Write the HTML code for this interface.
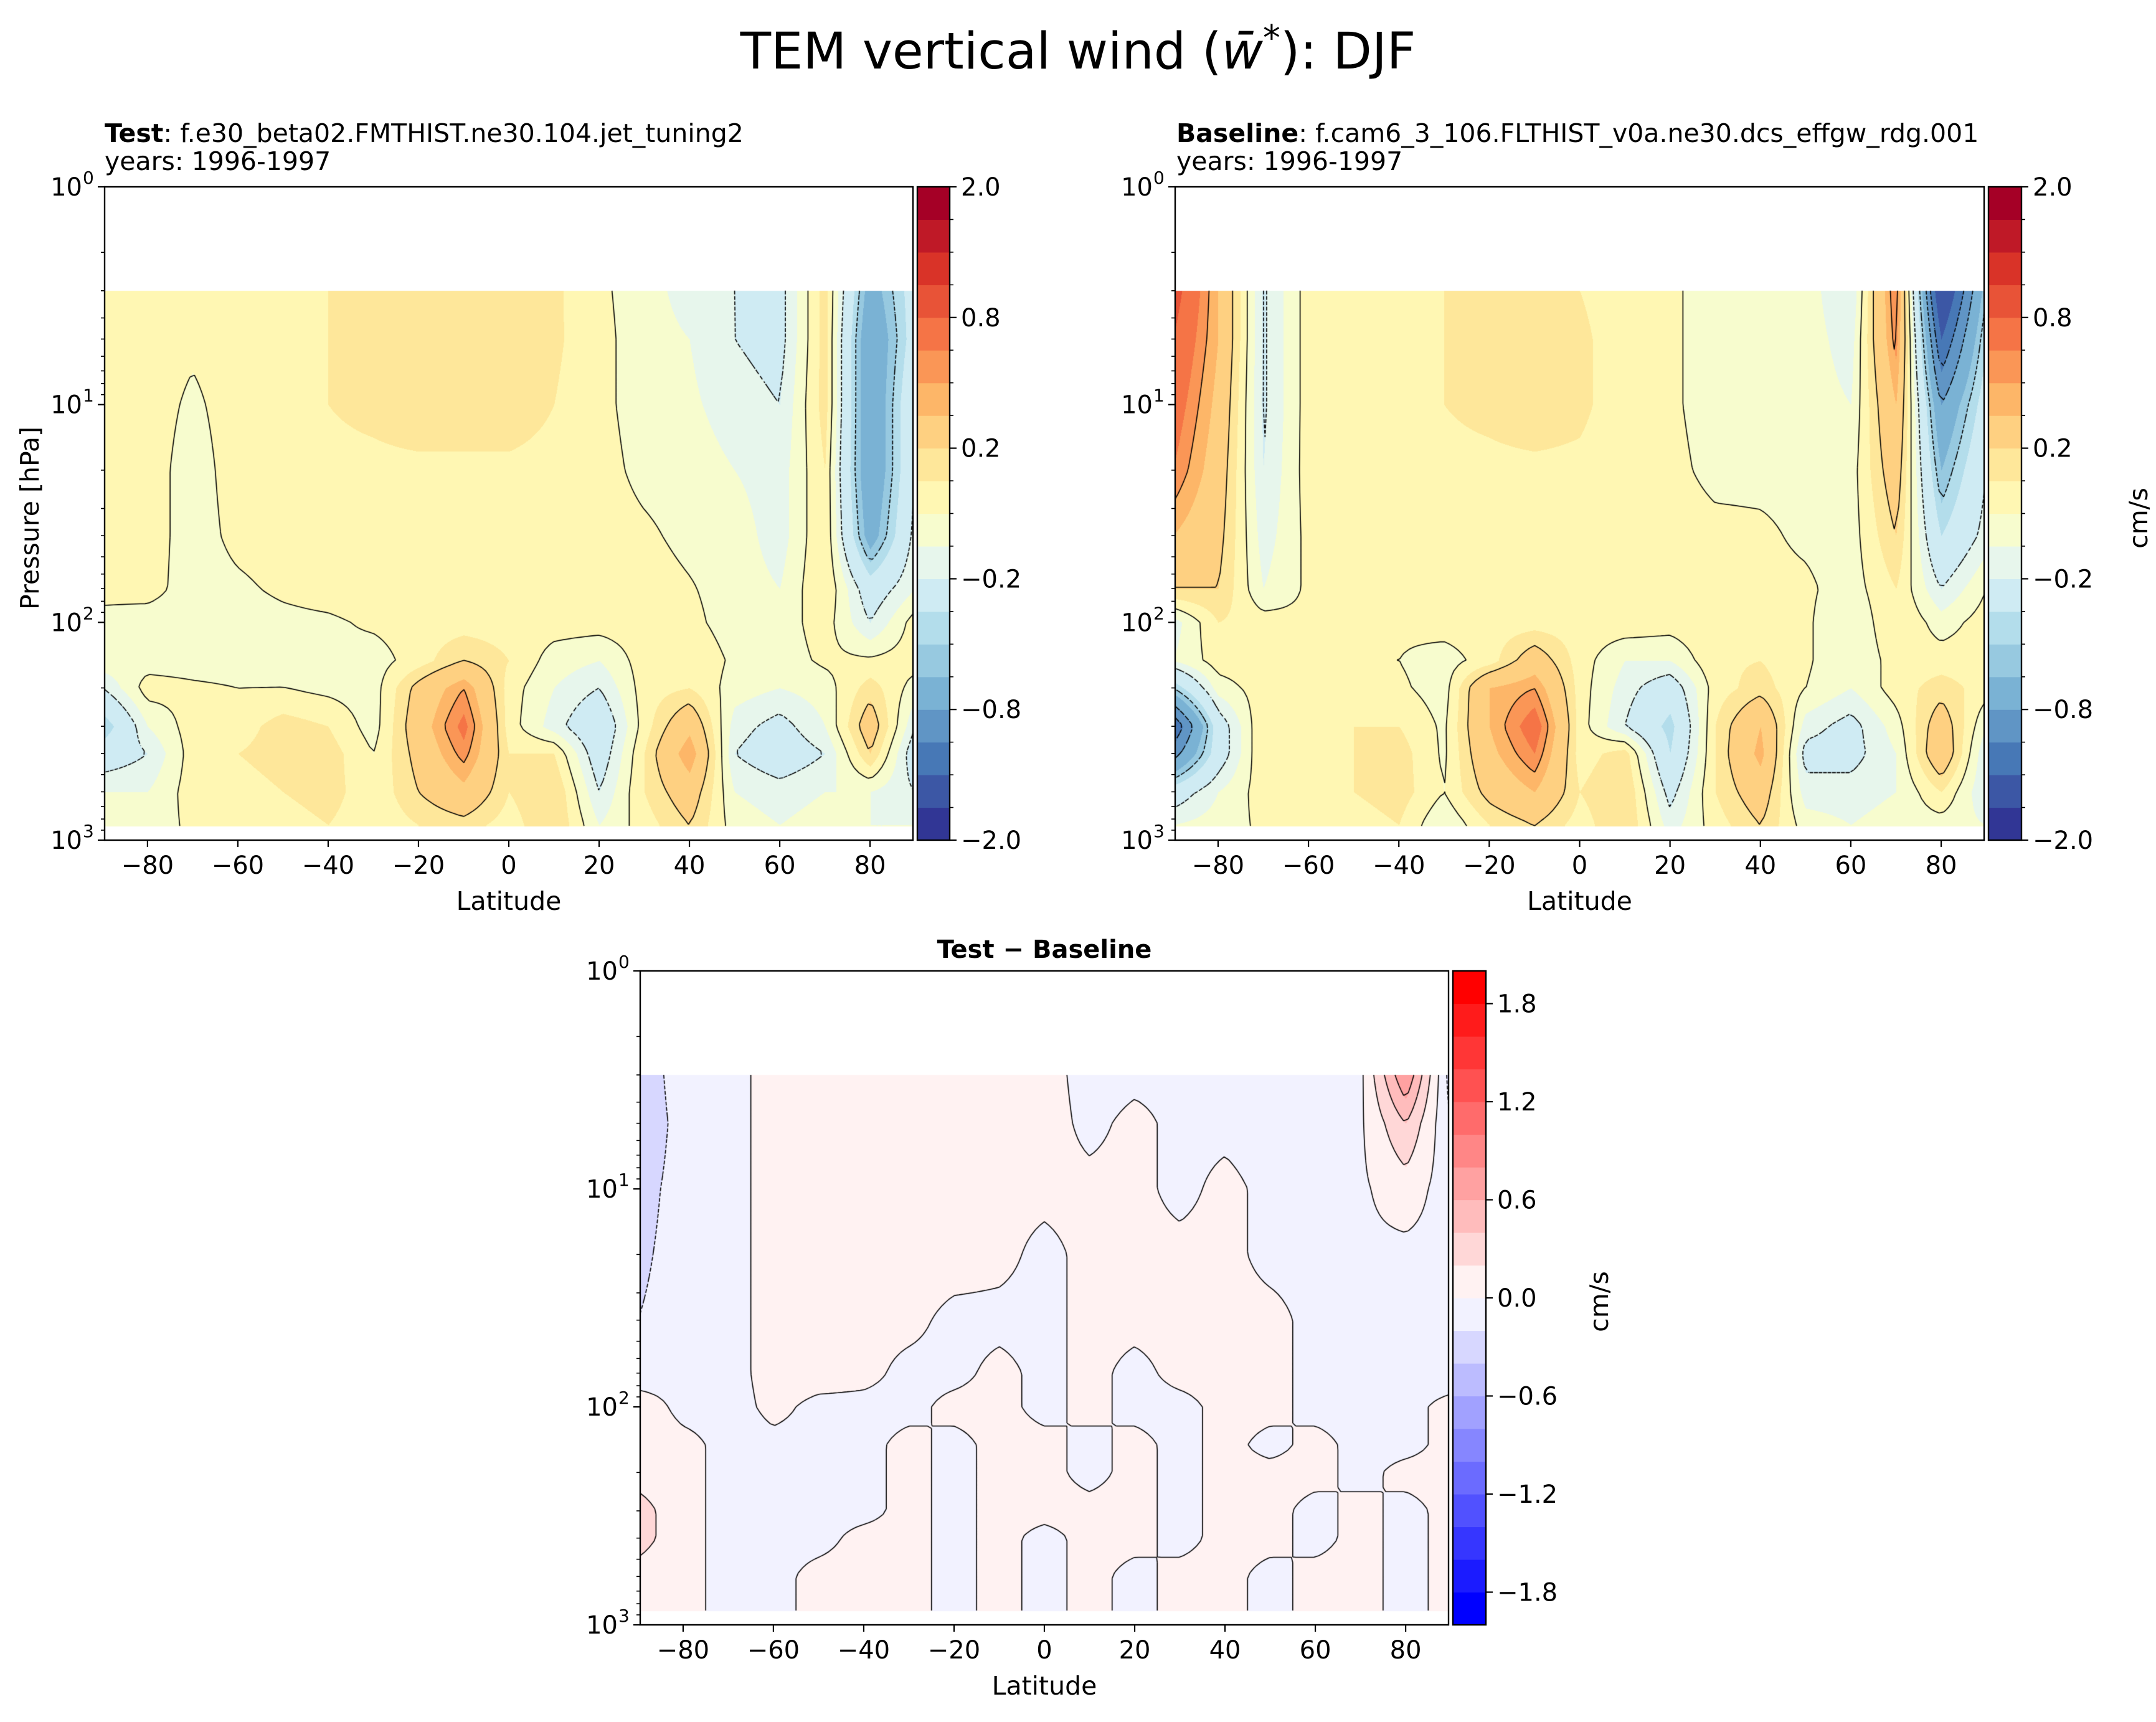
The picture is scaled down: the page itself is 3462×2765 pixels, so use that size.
<!DOCTYPE html>
<html><head><meta charset="utf-8">
<style>
html,body{margin:0;padding:0;background:#fff;}
#wrap{position:relative;width:3462px;height:2765px;overflow:hidden;font-family:"DejaVu Sans","Liberation Sans",sans-serif;}
canvas{position:absolute;}
svg{position:absolute;left:0;top:0;}
text{font-family:"DejaVu Sans","Liberation Sans",sans-serif;fill:#000;}
</style></head>
<body>
<div id="wrap">
<canvas id="c1"></canvas>
<canvas id="c2"></canvas>
<canvas id="c3"></canvas>
<svg id="svg" width="3462" height="2765" xmlns="http://www.w3.org/2000/svg">
<text x="1731" y="110" font-size="81" text-anchor="middle">TEM vertical wind (<tspan font-style="italic">w̄</tspan><tspan font-size="56" dy="-30">*</tspan><tspan dy="30">): DJF</tspan></text>
<text x="168" y="228" font-size="41"><tspan font-weight="bold">Test</tspan>: f.e30_beta02.FMTHIST.ne30.104.jet_tuning2</text>
<text x="168" y="273" font-size="41">years: 1996-1997</text>
<text x="1889" y="228" font-size="41"><tspan font-weight="bold">Baseline</tspan>: f.cam6_3_106.FLTHIST_v0a.ne30.dcs_effgw_rdg.001</text>
<text x="1889" y="273" font-size="41">years: 1996-1997</text>
<text x="1677" y="1538" font-size="40" font-weight="bold" text-anchor="middle">Test − Baseline</text>
<text transform="translate(62,832) rotate(-90)" font-size="41" text-anchor="middle">Pressure [hPa]</text>
<text transform="translate(3448,832) rotate(-90)" font-size="41" text-anchor="middle">cm/s</text>
<text transform="translate(2582,2090) rotate(-90)" font-size="41" text-anchor="middle">cm/s</text>
</svg>
</div>
<script>
// ---------- data ----------
const lats = [-90,-80,-70,-60,-50,-40,-30,-20,-10,0,10,20,30,40,50,60,70,80,90];
const pressures = [3,5,10,20,40,70,100,150,200,300,400,600,850];
const testValues = [
[.05,.05,.02,.05,.08,.1,.15,.15,.15,.15,.12,.02,-.05,-.15,-.2,-.25,.15,-.7,-.3],
[.05,.05,.02,.05,.08,.1,.15,.15,.18,.15,.12,.03,-.05,-.1,-.2,-.25,.15,-.8,-.3],
[.05,.05,-.02,.05,.08,.1,.12,.15,.15,.15,.1,.03,-.05,-.08,-.15,-.2,.15,-.8,-.2],
[.05,.05,-.05,.05,.07,.08,.08,.08,.08,.08,.07,.04,-.03,-.05,-.1,-.15,.1,-.8,-.2],
[.05,.05,-.05,.03,.05,.07,.07,.07,.07,.07,.07,.05,.02,-.03,-.05,-.15,.1,-.7,-.15],
[.03,.04,-.05,-.02,.02,.05,.07,.07,.07,.07,.07,.06,.05,.01,-.05,-.1,.1,-.3,-.1],
[-.03,-.05,-.05,-.05,-.03,-.02,.02,.05,.05,.05,.05,.05,.05,.03,-.05,-.05,.05,-.2,.05],
[-.03,-.05,-.05,-.05,-.03,-.02,-.05,.05,.2,.1,-.05,-.1,.05,.08,-.02,-.05,.02,.02,.05],
[-.2,.05,.02,0,0,-.03,-.05,.25,.5,.05,-.1,-.2,.05,.1,-.05,-.1,-.05,.15,-.05],
[-.5,-.1,.05,.05,.15,.1,-.05,.3,.65,.05,-.15,-.35,.05,.35,-.15,-.25,-.1,.3,-.2],
[-.3,-.2,.05,.1,.15,.15,0,.25,.55,.1,.1,-.3,.1,.5,-.2,-.3,-.2,.2,-.3],
[-.1,-.1,.05,.05,.1,.15,.02,.2,.35,.1,.2,-.2,.1,.3,-.1,-.15,-.1,-.1,-.2],
[-.05,-.05,.02,.02,.05,.1,.02,.1,.15,.05,.2,-.1,.05,.2,-.05,-.1,-.05,-.1,-.1]];
const baselineValues = [
[.9,.4,-.22,.05,.05,.08,.1,.15,.15,.1,.05,.02,-.05,-.1,-.05,-.2,.6,-1.5,-.5],
[.8,.4,-.22,.05,.05,.08,.1,.15,.2,.12,.05,.02,-.05,-.08,-.05,-.15,.55,-1.2,-.4],
[.7,.35,-.22,.05,.05,.08,.1,.12,.15,.12,.05,.02,-.05,-.05,-.05,-.1,.4,-.8,-.3],
[.6,.3,-.2,.05,.05,.08,.08,.08,.08,.08,.05,.03,-.03,-.03,-.03,-.05,.3,-.6,-.2],
[.4,.25,-.15,.03,.05,.07,.07,.07,.07,.07,.07,.05,.03,.02,-.02,-.05,.2,-.4,-.15],
[.2,.2,-.1,.02,.05,.05,.07,.07,.07,.07,.07,.06,.05,.03,.02,-.05,.1,-.2,0],
[-.15,.1,.05,.02,.02,.02,.05,.05,.05,.05,.07,.05,.08,.05,.02,-.1,.1,-.05,.05],
[-.1,.05,.05,0,0,0,-.05,.05,.3,.05,-.1,-.1,.08,.1,.02,-.1,.05,.05,.05],
[-.5,-.05,.05,0,0,.02,-.05,.4,.5,.05,-.15,-.3,.05,.15,0,-.1,.05,.15,.05],
[-1.2,-.3,.1,.05,.1,.1,-.02,.4,.7,.05,-.2,-.45,.1,.4,-.15,-.25,-.05,.3,-.1],
[-.9,-.3,.1,.05,.1,.15,-.02,.35,.6,.05,.15,-.4,.1,.45,-.25,-.25,-.1,.35,-.2],
[-.3,-.1,.05,.05,.1,.15,0,.25,.4,.1,.2,-.25,.1,.3,-.15,-.15,-.1,.1,-.2],
[-.1,-.05,.02,.02,.05,.1,-.1,.1,.2,.05,.2,-.15,.05,.2,-.05,-.1,-.05,-.05,-.1]];
const diffValues = [
[-.4,-.05,-.05,.05,.05,.05,.05,.05,.05,.05,-.05,-.03,-.03,-.03,-.05,-.03,-.05,.8,-.3],
[-.4,-.1,-.05,.05,.05,.05,.05,.05,.05,.05,-.03,.03,-.03,-.03,-.05,-.03,-.03,.4,-.2],
[-.3,-.1,-.05,.05,.05,.05,.05,.05,.03,.03,.03,.03,-.03,.03,-.03,-.03,-.03,.1,-.1],
[-.25,-.1,-.05,.05,.05,.05,.05,.05,.03,-.03,.03,.03,.03,.03,-.03,-.03,-.03,-.05,-.05],
[-.2,-.1,-.05,.05,.05,.03,.03,-.03,-.03,-.03,.03,.03,.03,.03,.03,-.03,-.03,-.03,-.05],
[-.1,-.05,-.05,.05,.05,.03,-.03,-.03,.03,-.03,.03,-.03,.03,.03,.03,-.03,-.03,-.03,-.05],
[.1,-.05,-.05,.03,-.03,-.03,-.03,.03,.03,-.03,.03,-.03,-.03,.03,.03,-.03,-.03,-.03,.03],
[.1,.05,-.05,-.03,-.03,-.03,.03,-.03,.03,.03,-.03,.03,-.03,.03,-.03,.03,-.03,-.03,.03],
[.1,.05,-.05,-.03,-.03,-.03,.03,-.03,.03,.03,-.03,.03,-.03,.03,.03,.03,-.03,.03,.03],
[.3,.05,-.05,-.03,-.03,-.03,.03,-.03,.03,.03,.03,.03,-.03,.03,.03,-.03,.03,-.03,.03],
[.3,.05,-.05,-.03,-.03,.03,.03,-.03,.03,-.03,.03,.03,-.03,.03,.03,-.03,.03,-.03,.03],
[.1,.03,-.03,-.03,.03,.03,.03,-.03,.03,-.03,.03,-.03,.03,.03,-.03,.03,.03,-.03,.03],
[.05,.03,-.03,-.03,.03,.03,.03,-.03,.03,-.03,.03,-.03,.03,.03,-.03,.03,.03,-.03,.03]];
const fieldLevels = [-2,-1.5,-1.2,-1,-0.8,-0.6,-0.5,-0.4,-0.2,-0.1,0,0.1,0.2,0.4,0.5,0.6,0.8,1,1.2,1.5,2];
const fieldTickLabels = ["−2.0","−0.8","−0.2","0.2","0.8","2.0"];
const fieldTickValues = [-2,-0.8,-0.2,0.2,0.8,2];
const fieldLineLevels = [-1,-0.8,-0.5,-0.2,0,0.2,0.5];
const diffLevels = [-2,-1.8,-1.6,-1.4,-1.2,-1,-0.8,-0.6,-0.4,-0.2,0,0.2,0.4,0.6,0.8,1,1.2,1.4,1.6,1.8,2];
const diffTickLabels = ["−1.8","−1.2","−0.6","0.0","0.6","1.2","1.8"];
const diffTickValues = [-1.8,-1.2,-0.6,0,0.6,1.2,1.8];
const diffLineLevels = [-0.4,-0.2,0,0.2,0.4,0.6];
const xTickValues = [-80,-60,-40,-20,0,20,40,60,80];
const dataTopP = 3, dataBotP = 860;

// ---------- colormaps ----------
const rdylbu = ["#313695","#4575b4","#74add1","#abd9e9","#e0f3f8","#ffffbf","#fee090","#fdae61","#f46d43","#d73027","#a50026"];
function hex(h){return [parseInt(h.substr(1,2),16),parseInt(h.substr(3,2),16),parseInt(h.substr(5,2),16)];}
function cmapRdYlBu(t){const s=t*10,i=Math.min(9,Math.floor(s)),f=s-i,a=hex(rdylbu[i]),b=hex(rdylbu[i+1]);return a.map((v,k)=>Math.round(v+(b[k]-v)*f));}
function cmapBwr(t){return t<0.5?[Math.round(510*t),Math.round(510*t),255]:[255,Math.round(510*(1-t)),Math.round(510*(1-t))];}

// ---------- panels ----------
const panels = [
 {id:'c1',name:'test',x0:168,y0:300,w:1298,h:1049,vals:testValues,levels:fieldLevels,cmap:cmapRdYlBu,lines:fieldLineLevels,cb:{x:1473,w:52},ticks:fieldTickValues,tickLabels:fieldTickLabels,uniform:true},
 {id:'c2',name:'baseline',x0:1887,y0:300,w:1299,h:1049,vals:baselineValues,levels:fieldLevels,cmap:cmapRdYlBu,lines:fieldLineLevels,cb:{x:3193,w:53},ticks:fieldTickValues,tickLabels:fieldTickLabels,uniform:true},
 {id:'c3',name:'diff',x0:1028,y0:1559,w:1298,h:1050,vals:diffValues,levels:diffLevels,cmap:cmapBwr,lines:diffLineLevels,cb:{x:2333,w:53},ticks:diffTickValues,tickLabels:diffTickLabels,uniform:false}
];
const NS='http://www.w3.org/2000/svg';
const svg=document.getElementById('svg');
function mk(tag,attrs,parent){const e=document.createElementNS(NS,tag);for(const k in attrs)e.setAttribute(k,attrs[k]);(parent||svg).appendChild(e);return e;}

function interp(vals,lat,p){
  const lp=Math.log10(Math.max(pressures[0],Math.min(pressures[pressures.length-1],p)));
  let j=0;while(j<pressures.length-2&&Math.log10(pressures[j+1])<lp)j++;
  const a0=Math.log10(pressures[j]),a1=Math.log10(pressures[j+1]);
  const fy=Math.max(0,Math.min(1,(lp-a0)/(a1-a0)));
  const lc=Math.max(-90,Math.min(90,lat));
  let i=Math.min(lats.length-2,Math.floor((lc+90)/10));
  const fx=(lc-lats[i])/10;
  const v00=vals[j][i],v01=vals[j][i+1],v10=vals[j+1][i],v11=vals[j+1][i+1];
  return (v00*(1-fx)+v01*fx)*(1-fy)+(v10*(1-fx)+v11*fx)*fy;
}
function levelIndex(levels,v){let k=0;while(k<levels.length-2&&v>=levels[k+1])k++;return k;}

panels.forEach(P=>{
  const xs=lat=>P.x0+(lat+89.5)/179*P.w;
  const ys=p=>P.y0+Math.log10(p)/3*P.h;
  const latOf=x=>(x-P.x0)/P.w*179-89.5;
  const pOf=y=>Math.pow(10,(y-P.y0)/P.h*3);
  const cv=document.getElementById(P.id);
  cv.width=P.w;cv.height=P.h;cv.style.left=P.x0+'px';cv.style.top=P.y0+'px';
  const ctx=cv.getContext('2d');
  const img=ctx.createImageData(P.w,P.h);
  const nC=P.levels.length-1;
  const cols=[];for(let k=0;k<nC;k++)cols.push(P.cmap(k/(nC-1)));
  const yTop=ys(dataTopP)-P.y0,yBot=ys(dataBotP)-P.y0;
  for(let y=0;y<P.h;y++){
    const p=pOf(y+P.y0);
    for(let x=0;x<P.w;x++){
      const o=(y*P.w+x)*4;
      if(y<yTop||y>yBot){img.data[o]=255;img.data[o+1]=255;img.data[o+2]=255;img.data[o+3]=255;continue;}
      const v=interp(P.vals,latOf(x+P.x0),p);
      const c=cols[levelIndex(P.levels,v)];
      img.data[o]=c[0];img.data[o+1]=c[1];img.data[o+2]=c[2];img.data[o+3]=255;
    }
  }
  ctx.putImageData(img,0,0);
  // contour lines (marching squares)
  const NX=180,NY=100;
  const gx=[],gy=[],G=[];
  for(let a=0;a<=NX;a++)gx.push(P.w*a/NX);
  for(let b=0;b<=NY;b++)gy.push(yTop+(yBot-yTop)*b/NY);
  for(let b=0;b<=NY;b++){const row=[];const p=pOf(gy[b]+P.y0);for(let a=0;a<=NX;a++)row.push(interp(P.vals,latOf(gx[a]+P.x0),p));G.push(row);}
  ctx.strokeStyle='#000';ctx.lineWidth=1.6;
  P.lines.forEach(L=>{
    ctx.setLineDash(L<0?[6,4]:[]);
    ctx.beginPath();
    for(let b=0;b<NY;b++)for(let a=0;a<NX;a++){
      const c=[[gx[a],gy[b],G[b][a]],[gx[a+1],gy[b],G[b][a+1]],[gx[a+1],gy[b+1],G[b+1][a+1]],[gx[a],gy[b+1],G[b+1][a]]];
      const pts=[];
      for(let e=0;e<4;e++){const A=c[e],B=c[(e+1)%4];
        if((A[2]<L)!==(B[2]<L)){const t=(L-A[2])/(B[2]-A[2]);pts.push([A[0]+(B[0]-A[0])*t,A[1]+(B[1]-A[1])*t]);}}
      for(let q=0;q+1<pts.length;q+=2){ctx.moveTo(pts[q][0],pts[q][1]);ctx.lineTo(pts[q+1][0],pts[q+1][1]);}
    }
    ctx.stroke();
  });
  ctx.setLineDash([]);
  // axes frame
  const frame=mk('rect',{x:P.x0,y:P.y0,width:P.w,height:P.h,fill:'none',stroke:'#000','stroke-width':2.4});
  
  
  // x ticks
  xTickValues.forEach(v=>{
    const X=xs(v);
    const t=mk('line',{x1:X,y1:P.y0+P.h,x2:X,y2:P.y0+P.h+11,stroke:'#000','stroke-width':2.2});
    
    
    const l=mk('text',{x:X,y:P.y0+P.h+54,'font-size':40,'text-anchor':'middle'});
    l.textContent=(v<0?'−':'')+Math.abs(v);
    
    
  });
  const xl=mk('text',{x:P.x0+P.w/2,y:P.y0+P.h+112,'font-size':41,'text-anchor':'middle'});
  xl.textContent='Latitude';
  
  
  // y ticks (log)
  for(let d=0;d<=3;d++){
    const Y=ys(Math.pow(10,d));
    const t=mk('line',{x1:P.x0-11,y1:Y,x2:P.x0,y2:Y,stroke:'#000','stroke-width':2.2});
    
    
    const l=mk('text',{x:P.x0-36,y:Y+14,'font-size':40,'text-anchor':'end'});
    l.textContent='10';
    
    
    const s=mk('text',{x:P.x0-35,y:Y-5,'font-size':28,'text-anchor':'start'});
    s.textContent=String(d);
    
    
    if(d<3)for(let m=2;m<=9;m++){
      const Ym=ys(m*Math.pow(10,d));
      const mt=mk('line',{x1:P.x0-6,y1:Ym,x2:P.x0,y2:Ym,stroke:'#000','stroke-width':1.6});
      
      
    }
  }
  // colorbar
  const cbx=P.cb.x,cbw=P.cb.w,cbTop=P.y0,cbH=P.h;
  const segH=cbH/nC;
  for(let k=0;k<nC;k++){
    const c=cols[k];
    const r=mk('rect',{x:cbx,y:cbTop+cbH-(k+1)*segH,width:cbw,height:segH+0.6,fill:'rgb('+c.join(',')+')'});
    
    
  }
  const cf=mk('rect',{x:cbx,y:cbTop,width:cbw,height:cbH,fill:'none',stroke:'#000','stroke-width':2.4});
  
  
  const yOfLevel=v=>{
    if(P.uniform){const k=P.levels.indexOf(v);return cbTop+cbH-k*segH;}
    return cbTop+cbH-(v-P.levels[0])/(P.levels[P.levels.length-1]-P.levels[0])*cbH;
  };
  if(P.uniform){
    for(let k=0;k<=nC;k++){
      const Y=cbTop+cbH-k*segH;
      const mt=mk('line',{x1:cbx+cbw,y1:Y,x2:cbx+cbw+6,y2:Y,stroke:'#000','stroke-width':1.6});
      
      
    }
  }
  P.ticks.forEach((v,i)=>{
    const Y=yOfLevel(v);
    const t=mk('line',{x1:cbx+cbw,y1:Y,x2:cbx+cbw+11,y2:Y,stroke:'#000','stroke-width':2.2});
    
    
    const l=mk('text',{x:cbx+cbw+18,y:Y+14,'font-size':40});
    l.textContent=P.tickLabels[i];
    
    
  });
});
</script>
</body></html>
